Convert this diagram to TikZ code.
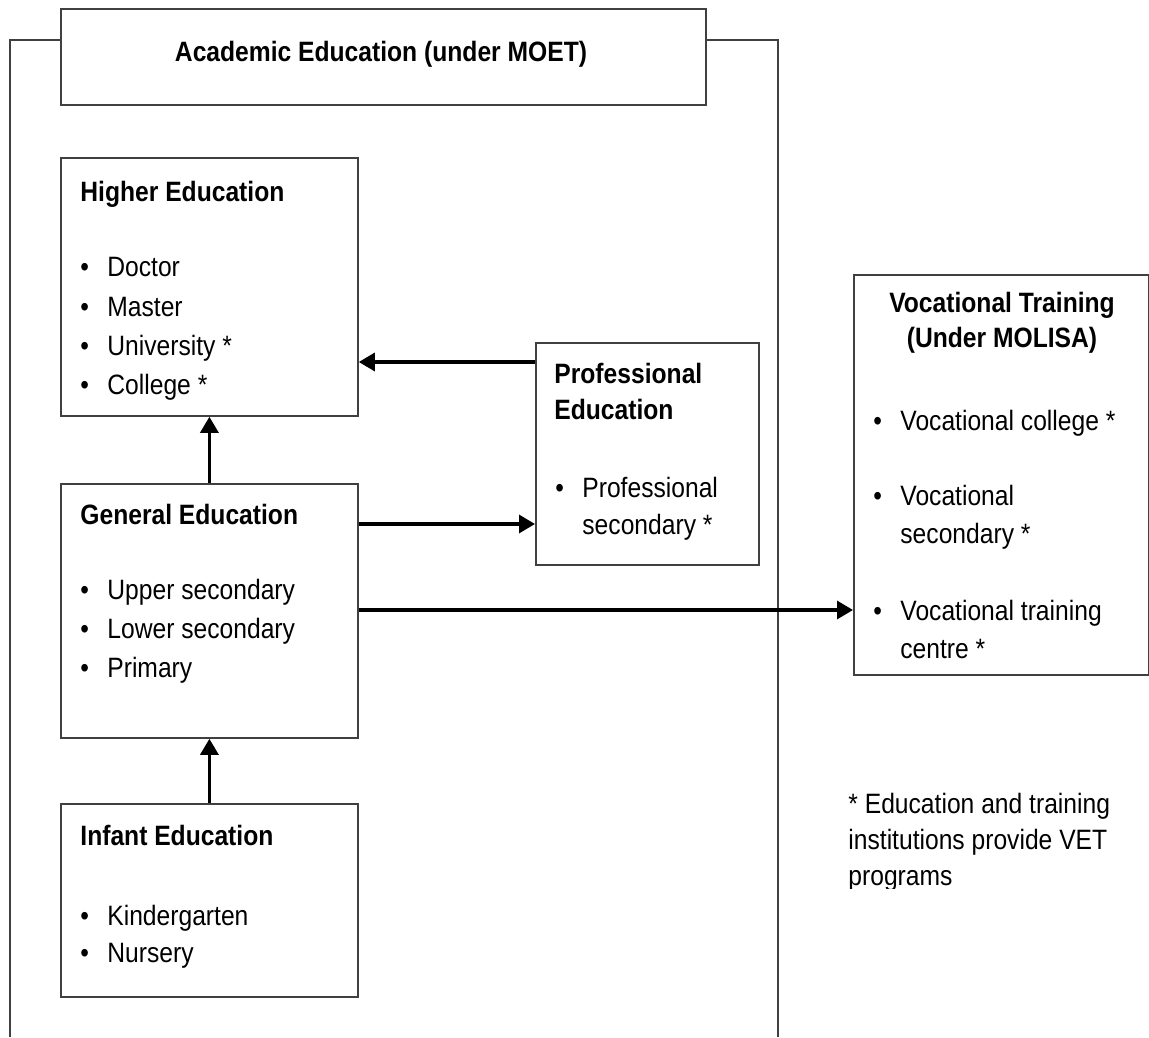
\documentclass[tikz,border=0pt]{standalone}
\usepackage{fontspec}
\setmainfont{Liberation Sans}[FakeStretch=0.88]
\usetikzlibrary{arrows.meta}
\newcommand\mybul{\makebox[13.5pt][l]{\textbullet}}
\begin{document}
\begin{tikzpicture}[x=0.5pt,y=-0.5pt,
  box/.style={draw=black!75, line width=0.9pt, inner sep=0pt, anchor=north west},
  txt/.style={anchor=base west, inner sep=0pt, font=\fontsize{14}{16}\selectfont},
  hd/.style={txt, font=\fontsize{14}{16}\selectfont\bfseries},
  arr/.style={line width=1.6pt, -{Triangle[length=8pt,width=9pt]}},
  frameline/.style={draw=black!75, line width=0.9pt}]
\useasboundingbox (0,0) rectangle (1149,1037);

% outer frame
\draw[frameline] (60,40) -- (10,40) -- (10,1037);
\draw[frameline] (705,40) -- (778,40) -- (778,1037);

% boxes
\node[box, fill=white, minimum width=322.5pt, minimum height=48pt] (title) at (60,8) {};
\node[box, minimum width=148.5pt, minimum height=129pt] (higher) at (60,157) {};
\node[box, minimum width=111.5pt, minimum height=111pt] (prof) at (535,342) {};
\node[box, minimum width=148.5pt, minimum height=127pt] (general) at (60,483) {};
\node[box, minimum width=148.5pt, minimum height=96.5pt] (infant) at (60,803) {};
\node[box, minimum width=147.5pt, minimum height=200pt] (voc) at (853,274) {};

% title text
\node[hd, anchor=base] (tt) at (381,62) {Academic Education (under MOET)};

% higher education
\node[hd] (h0) at (80,202) {Higher Education};
\node[txt] (h1) at (80,277) {\mybul Doctor};
\node[txt] (h2) at (80,316) {\mybul Master};
\node[txt] (h3) at (80,355) {\mybul University *};
\node[txt] (h4) at (80,394) {\mybul College *};

% professional education
\node[hd] (p0) at (554,383) {Professional};
\node[hd] (p1) at (554,419) {Education};
\node[txt] (p2) at (555,497) {\mybul Professional};
\node[txt] (p3) at (582,534) {secondary *};

% general education
\node[hd] (g0) at (80,524) {General Education};
\node[txt] (g1) at (80,599) {\mybul Upper secondary};
\node[txt] (g2) at (80,638) {\mybul Lower secondary};
\node[txt] (g3) at (80,677) {\mybul Primary};

% infant education
\node[hd] (i0) at (80,845) {Infant Education};
\node[txt] (i1) at (80,925) {\mybul Kindergarten};
\node[txt] (i2) at (80,962) {\mybul Nursery};

% vocational training
\node[hd, anchor=base] (v0) at (1002,313) {Vocational Training};
\node[hd, anchor=base] (v1) at (1002,347) {(Under MOLISA)};
\node[txt] (v2) at (873,430) {\mybul Vocational college *};
\node[txt] (v3) at (873,505) {\mybul Vocational};
\node[txt] (v4) at (900,543) {secondary *};
\node[txt] (v5) at (873,620) {\mybul Vocational training};
\node[txt] (v6) at (900,658) {centre *};

% footnote
\node[txt] (f1) at (848,813) {* Education and training};
\node[txt] (f2) at (848,849) {institutions provide VET};
\begin{scope}
\clip (800,860) rectangle (1149,888);
\node[txt] (f3) at (848,885) {programs};
\end{scope}

% connectors
\coordinate (pa) at ([yshift=-10pt]prof.north west);
\draw[arr] (pa) -- (pa -| higher.east);
\coordinate (ga) at ([yshift=-20.5pt]general.north east);
\draw[arr] (ga) -- (ga -| prof.west);
\coordinate (gb) at ([yshift=-63.5pt]general.north east);
\draw[arr] (gb) -- (gb -| voc.west);
\draw[arr] (general.north) -- (higher.south);
\draw[arr] (infant.north) -- (general.south);
\end{tikzpicture}
\end{document}
